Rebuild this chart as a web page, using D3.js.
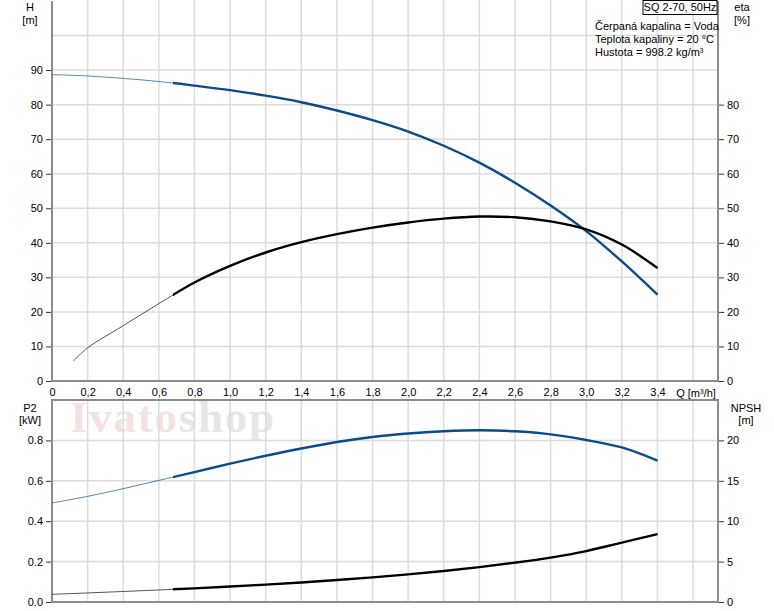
<!DOCTYPE html>
<html>
  <head>
    <meta charset="utf-8">
    <title>SQ 2-70 pump curves</title>
    <script src="https://cdn.jsdelivr.net/npm/d3@7"></script>
    <style>
      body { margin: 0; background: #fff; }
      svg { display: block; font-family: Arial, "Liberation Sans", sans-serif; font-size: 11px; }
      .grid line { stroke: #dcdcdc; stroke-width: 1.5; }
      .frame { stroke: #8c8c8c; stroke-width: 2; fill: none; }
      .tick line { stroke: #333; }
    </style>
  </head>
  <body>
    <svg id="chart" width="774" height="611"></svg>

    <script>
      // data
      qGrid = [0, 0.2, 0.4, 0.6, 0.8, 1.0, 1.2, 1.4, 1.6, 1.8, 2.0, 2.2, 2.4, 2.6, 2.8, 3.0, 3.2, 3.4];
      headH = [88.7, 88.3, 87.6, 86.7, 85.5, 84.2, 82.6, 80.7, 78.3, 75.5, 72.2, 68.1, 63.2, 57.4, 50.8, 43.4, 34.6, 25.0];
      qEta = [0.12, 0.2, 0.4, 0.6, 0.8, 1.0, 1.2, 1.4, 1.6, 1.8, 2.0, 2.2, 2.4, 2.6, 2.8, 3.0, 3.2, 3.4];
      eta = [5.8, 9.6, 16.0, 22.4, 28.5, 33.3, 37.2, 40.2, 42.5, 44.4, 45.9, 47.0, 47.6, 47.4, 46.2, 43.9, 39.5, 32.7];
      powerP2 = [0.49, 0.523, 0.561, 0.602, 0.643, 0.685, 0.724, 0.760, 0.792, 0.817, 0.834, 0.845, 0.85, 0.845, 0.83, 0.802, 0.765, 0.70];
      npsh = [0.95, 1.12, 1.3, 1.49, 1.69, 1.91, 2.15, 2.42, 2.72, 3.05, 3.42, 3.84, 4.32, 4.87, 5.5, 6.3, 7.35, 8.4];
      qTicks = [0, 0.2, 0.4, 0.6, 0.8, 1.0, 1.2, 1.4, 1.6, 1.8, 2.0, 2.2, 2.4, 2.6, 2.8, 3.0, 3.2, 3.4];
      hTicks = [0, 10, 20, 30, 40, 50, 60, 70, 80, 90];
      etaTicks = [0, 10, 20, 30, 40, 50, 60, 70, 80];
      p2Ticks = [0, 0.2, 0.4, 0.6, 0.8];
      npshTicks = [0, 5, 10, 15, 20];
      legendLines = ["Čerpaná kapalina = Voda", "Teplota kapaliny = 20 °C", "Hustota = 998.2 kg/m³"];
      thickFrom = 0.68; // curves drawn bold from this flow on

      blue = "#0b4a8b";
      svg = d3.select("#chart");

      // scales
      x = d3.scaleLinear().domain([0, 3.74]).range([52, 718]);
      yH = d3.scaleLinear().domain([0, 110]).range([381, 1]);
      yEta = d3.scaleLinear().domain([0, 110]).range([381, 1]);
      yP2 = d3.scaleLinear().domain([0, 1]).range([602, 400]);
      yNpsh = d3.scaleLinear().domain([0, 25]).range([602, 400]);

      // watermark
      wm = svg.append("text")
        .attr("x", 70)
        .attr("y", 432)
        .style("font-family", "'Liberation Serif', 'DejaVu Serif', serif")
        .style("font-weight", "bold")
        .style("font-size", "45px")
        .attr("textLength", 204);
      wm.append("tspan").attr("fill", "#f2e2e2").text("Ivato");
      wm.append("tspan").attr("fill", "#e6e6e6").text("shop");

      // grids
      gridX = [0.2, 0.4, 0.6, 0.8, 1.0, 1.2, 1.4, 1.6, 1.8, 2.0, 2.2, 2.4, 2.6, 2.8, 3.0, 3.2, 3.4, 3.6];
      topGrid = svg.append("g").attr("class", "grid");
      topGrid.selectAll(".v").data(gridX).enter().append("line")
        .attr("x1", d => x(d)).attr("x2", d => x(d))
        .attr("y1", yH(110) - 1).attr("y2", yH(0));
      topGrid.selectAll(".h").data(d3.range(10, 110, 10)).enter().append("line")
        .attr("x1", x(0)).attr("x2", x(3.74))
        .attr("y1", d => yH(d)).attr("y2", d => yH(d));
      bottomGrid = svg.append("g").attr("class", "grid");
      bottomGrid.selectAll(".v").data(gridX).enter().append("line")
        .attr("x1", d => x(d)).attr("x2", d => x(d))
        .attr("y1", yP2(1)).attr("y2", yP2(0));
      bottomGrid.selectAll(".h").data(p2Ticks.slice(1)).enter().append("line")
        .attr("x1", x(0)).attr("x2", x(3.74))
        .attr("y1", d => yP2(d)).attr("y2", d => yP2(d));

      // frames
      svg.append("path").attr("class", "frame")
        .attr("d", "M" + x(0) + "," + yH(110) + "V" + yH(0) + "H" + x(3.74) + "V" + yH(110));
      svg.append("rect").attr("class", "frame")
        .attr("x", x(0)).attr("y", yP2(1))
        .attr("width", x(3.74) - x(0)).attr("height", yP2(0) - yP2(1));

      // axes
      function styleAxis(g) {
        g.select(".domain").remove();
        g.selectAll(".tick line").attr("stroke", "#333");
        g.selectAll(".tick text").attr("fill", "#000").style("font-size", "11px").style("font-family", "Arial, 'Liberation Sans', sans-serif");
      }
      svg.append("g").attr("transform", "translate(" + (x(0) - 1) + ",0)")
        .call(d3.axisLeft(yH).tickValues(hTicks).tickSize(5).tickPadding(3))
        .call(styleAxis);
      svg.append("g").attr("transform", "translate(" + (x(3.74) + 1) + ",0)")
        .call(d3.axisRight(yEta).tickValues(etaTicks).tickSize(5).tickPadding(3))
        .call(styleAxis);
      svg.append("g").attr("transform", "translate(0," + (yH(0) + 2) + ")")
        .call(d3.axisBottom(x).tickValues(qTicks).tickSize(0).tickPadding(5)
          .tickFormat(d => d3.format(".1f")(d).replace(".", ",").replace(/^0,0$/, "0")))
        .call(styleAxis);
      svg.append("g").attr("transform", "translate(" + (x(0) - 1) + ",0)")
        .call(d3.axisLeft(yP2).tickValues(p2Ticks).tickSize(5).tickPadding(3).tickFormat(d3.format(".1f")))
        .call(styleAxis);
      svg.append("g").attr("transform", "translate(" + (x(3.74) + 1) + ",0)")
        .call(d3.axisRight(yNpsh).tickValues(npshTicks).tickSize(5).tickPadding(3))
        .call(styleAxis);

      // axis titles
      function label(txt, xx, yy, anchor) {
        svg.append("text").attr("x", xx).attr("y", yy)
          .attr("text-anchor", anchor || "middle").attr("fill", "#000").text(txt);
      }
      label("H", 30, 11);
      label("[m]", 30, 24);
      label("eta", 742, 11);
      label("[%]", 742, 24);
      label("P2", 30, 412);
      label("[kW]", 30, 424);
      label("NPSH", 746, 412);
      label("[m]", 746, 424);
      label("Q [m³/h]", x(3.6) + 3, 397);

      // title box and legend
      svg.append("rect").attr("x", 643).attr("y", 0.5).attr("width", 74).attr("height", 14)
        .attr("fill", "#fff").attr("stroke", "#000").attr("stroke-width", 1);
      label("SQ 2-70, 50Hz", 680, 11);
      svg.selectAll(".legend").data(legendLines).enter().append("text")
        .attr("x", 595).attr("y", (d, i) => 30 + i * 13).attr("fill", "#000").text(d => d);

      // curves
      svg.append("clipPath").attr("id", "thick").append("rect")
        .attr("x", x(thickFrom)).attr("y", 0).attr("width", x(3.74) - x(thickFrom)).attr("height", 611);

      function curve(qs, vs, yScale, color) {
        line = d3.line().x((d, i) => x(qs[i])).y(d => yScale(d)).curve(d3.curveCatmullRom.alpha(0.5));
        svg.append("path").datum(vs).attr("d", line)
          .attr("fill", "none").attr("stroke", color).attr("stroke-width", 0.9).attr("opacity", 0.75);
        svg.append("path").datum(vs).attr("d", line).attr("clip-path", "url(#thick)")
          .attr("fill", "none").attr("stroke", color).attr("stroke-width", 2.4);
      }
      curve(qGrid, headH, yH, blue);
      curve(qEta, eta, yEta, "#000");
      curve(qGrid, powerP2, yP2, blue);
      curve(qGrid, npsh, yNpsh, "#000");
    </script>
  </body>
</html>
